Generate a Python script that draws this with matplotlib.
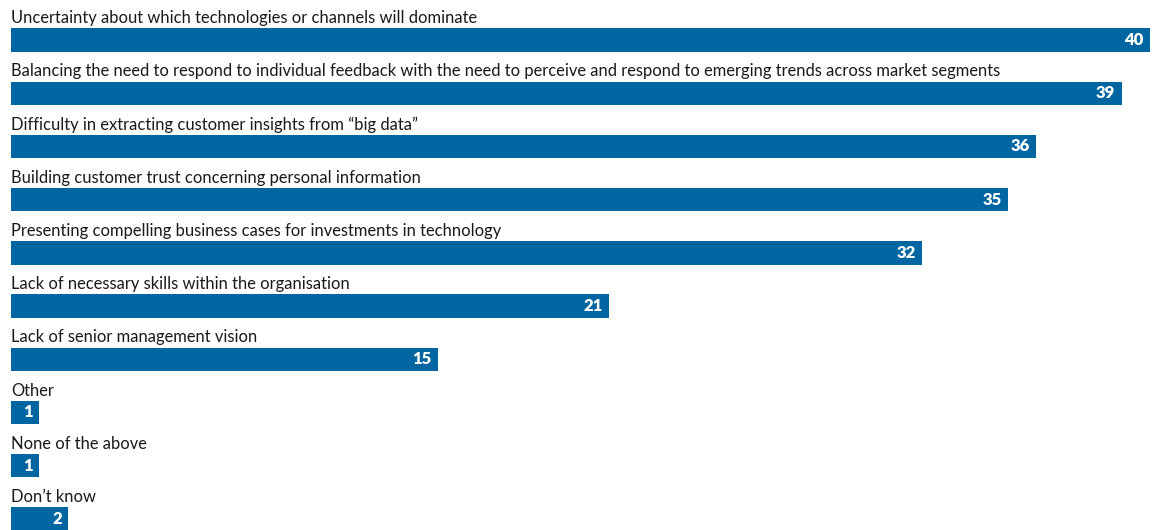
import matplotlib
matplotlib.use("Agg")
import matplotlib.pyplot as plt

# Survey responses, % of respondents
labels = [
    "Uncertainty about which technologies or channels will dominate",
    "Balancing the need to respond to individual feedback with the need to perceive and respond to emerging trends across market segments",
    "Difficulty in extracting customer insights from \u201cbig data\u201d",
    "Building customer trust concerning personal information",
    "Presenting compelling business cases for investments in technology",
    "Lack of necessary skills within the organisation",
    "Lack of senior management vision",
    "Other",
    "None of the above",
    "Don\u2019t know",
]
values = [40, 39, 36, 35, 32, 21, 15, 1, 1, 2]

BAR_COLOR = "#0066a1"

plt.rcParams["font.family"] = ["Lato", "DejaVu Sans"]

fig = plt.figure(figsize=(11.6, 5.3), dpi=100)
ax = fig.add_axes([0, 0, 1, 1])

rows = list(range(len(values)))
ax.barh(rows, values, height=0.44, color=BAR_COLOR, left=0)

for i, (lab, v) in enumerate(zip(labels, values)):
    ax.text(0, i - 0.41, lab, ha="left", va="center", fontsize=11.9, color="#1a1a1a")
    ax.text(v - 0.22, i, str(v), ha="right", va="center", fontsize=12,
            fontweight="heavy", color="white")

ax.set_xlim(-0.386, 40.35)
ax.set_ylim(9.21, -0.752)
ax.axis("off")

fig.savefig("out.png", dpi=100)
